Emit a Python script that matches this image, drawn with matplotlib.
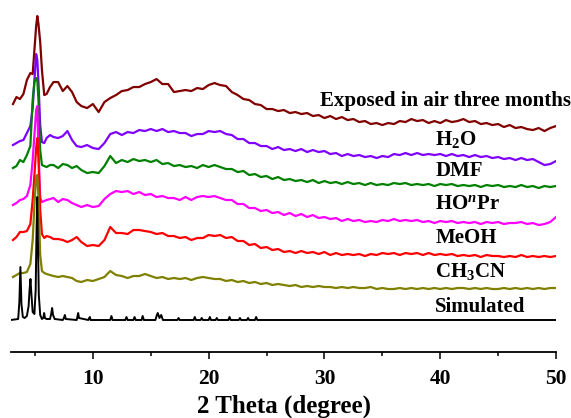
import numpy as np
import matplotlib
matplotlib.use("Agg")
import matplotlib.pyplot as plt

plt.rcParams['font.family'] = ['Liberation Serif', 'DejaVu Serif']
plt.rcParams['font.weight'] = 'bold'
plt.rcParams['mathtext.fontset'] = 'custom'
plt.rcParams['mathtext.rm'] = 'Liberation Serif:bold'
plt.rcParams['mathtext.it'] = 'Liberation Serif:italic:bold'
plt.rcParams['mathtext.bf'] = 'Liberation Serif:bold'

# 2 theta grid for the measured patterns
two_theta = np.concatenate([
    [3.1, 3.4, 3.7, 4.0, 4.3, 4.6, 4.8, 4.95, 5.1, 5.2, 5.3,
     5.45, 5.6, 5.8, 6.0, 6.3, 6.6, 7.0, 7.4, 7.8, 8.2, 8.6],
    np.arange(9.0, 50.01, 0.5)])

# intensities (a.u.)
air = [24, 31, 29, 34, 48, 55, 54, 78, 102, 112, 104,
       86, 58, 33, 34, 41, 46, 46, 37, 42, 36, 26,
       22, 20, 24, 16, 26, 30, 33, 37, 38, 41, 41, 44,
       46, 49, 44, 44, 36, 37, 38, 37, 40, 39, 43, 45,
       43, 42, 36, 33, 29, 28, 24, 23, 19, 19, 17, 18,
       15, 16, 14, 15, 12, 13, 10, 12, 9, 11, 8, 9,
       6, 7, 4, 5, 3, 5, 4, 7, 6, 9, 7, 8,
       5, 7, 5, 8, 6, 7, 9, 6, 7, 4, 5, 3,
       4, 1, 3, 0, 1, -1, -2, 0, -3, 0, 2]
h2o = [15, 17, 19, 20, 27, 34, 52, 80, 106, 100, 78,
       35, 18, 17, 22, 25, 23, 22, 24, 29, 20, 14,
       13, 15, 12, 11, 17, 26, 28, 25, 28, 27, 30, 29,
       31, 29, 31, 28, 29, 27, 27, 24, 26, 26, 29, 28,
       29, 26, 25, 21, 21, 17, 17, 14, 14, 11, 13, 10,
       11, 9, 11, 8, 10, 8, 9, 6, 7, 4, 6, 4,
       5, 3, 4, 2, 4, 3, 6, 5, 7, 5, 7, 5,
       6, 5, 6, 4, 6, 4, 5, 3, 5, 3, 4, 2,
       3, 1, 2, 0, 2, 0, 1, -2, -5, -4, -1]
dmf = [18, 20, 26, 24, 31, 40, 86, 104, 108, 106, 86,
       36, 21, 20, 19, 21, 21, 18, 22, 21, 18, 20,
       16, 13, 14, 13, 20, 30, 23, 26, 24, 27, 25, 26,
       24, 26, 22, 23, 20, 21, 19, 20, 18, 21, 19, 21,
       19, 17, 17, 14, 15, 11, 12, 9, 10, 7, 9, 6,
       7, 5, 6, 4, 6, 3, 5, 3, 4, 2, 4, 2,
       3, 1, 3, 1, 2, 1, 3, 2, 3, 1, 2, 1,
       2, 0, 2, 1, 2, 0, 1, 0, 1, -1, 1, 0,
       1, -1, 0, -1, 1, -1, 0, -2, 0, -1, 0]
hopr = [13, 15, 18, 19, 22, 33, 58, 83, 108, 112, 68,
        20, 16, 17, 18, 19, 20, 16, 19, 18, 15, 13,
        11, 13, 11, 12, 19, 24, 27, 26, 27, 24, 26, 23,
        24, 21, 22, 20, 20, 18, 21, 18, 21, 22, 21, 22,
        20, 18, 18, 14, 14, 10, 10, 7, 8, 5, 6, 3,
        5, 2, 4, 1, 3, 0, 1, -1, 0, -3, -1, -3,
        -2, -4, -3, -4, -2, -3, -1, -3, -2, -3, -2, -4,
        -3, -5, -3, -4, -3, -5, -4, -5, -4, -6, -4, -5,
        -4, -6, -5, -5, -4, -6, -5, -7, -6, -4, 1]
meoh = [16, 19, 24, 24, 25, 32, 56, 81, 108, 118, 98,
        46, 22, 18, 20, 19, 17, 17, 16, 14, 16, 19,
        14, 10, 11, 10, 16, 29, 23, 23, 22, 26, 26, 25,
        24, 22, 23, 20, 20, 18, 19, 16, 18, 18, 21, 20,
        21, 18, 19, 15, 15, 11, 12, 8, 9, 6, 7, 4,
        5, 3, 5, 3, 4, 2, 4, 1, 3, 1, 2, 1,
        2, 0, 2, 1, 3, 2, 3, 1, 3, 2, 3, 1,
        3, 1, 2, 1, 2, 0, 1, 0, 1, -1, 1, 0,
        0, -1, 0, -1, 1, -1, 0, -1, 0, -1, 0]
ch3cn = [11, 13, 15, 15, 16, 24, 48, 83, 112, 113, 90,
         33, 17, 15, 14, 13, 12, 11, 12, 11, 10, 7,
         6, 8, 7, 9, 11, 17, 13, 12, 10, 12, 12, 14,
         12, 10, 11, 9, 10, 9, 10, 8, 10, 11, 10, 9,
         9, 7, 8, 6, 7, 5, 6, 4, 5, 3, 4, 3,
         2, 3, 1, 2, 1, 2, 1, 1, 0, 1, 0, 1,
         0, 0, 1, -1, 0, -1, -1, 0, -1, 0, -1, 0,
         -1, 0, -1, 0, -1, 0, 0, -1, 0, -1, 0, -1,
         -1, 0, -1, 0, -1, 0, -1, 0, -1, 0, 0]

# simulated pattern
sim_x = [2.9, 3.55,
         3.65, 3.74, 3.83, 3.95, 4.1, 4.3,
         4.45, 4.53, 4.61, 4.69, 4.8, 4.95,
         5.06, 5.12, 5.19, 5.26, 5.33, 5.45, 5.6,
         5.72, 5.79, 5.86, 6.0, 6.3,
         6.4, 6.48, 6.56, 6.7, 7.4,
         7.5, 7.58, 7.66, 8.6,
         8.66, 8.73, 8.8, 9.6,
         9.68, 9.74, 9.8, 11.5,
         11.6, 11.7, 12.8, 12.9, 13.0, 13.5, 13.6, 13.7, 14.2, 14.3, 14.4, 15.4,
         15.5, 15.6, 15.75, 15.9, 16.05, 17.3,
         17.4, 17.5, 18.7, 18.8, 18.9, 19.3, 19.4, 19.5, 20.0, 20.1, 20.2,
         20.6, 20.7, 20.8, 21.7, 21.8, 21.9, 22.6, 22.7, 22.8, 23.3, 23.4, 23.5,
         24.0, 24.1, 24.2, 50.0]
sim_y = [0, 1,
         18, 53, 16, 3, 2, 4,
         14, 30, 41, 26, 8, 6,
         30, 80, 123, 75, 25, 5, 1,
         2, 7, 2, 1, 1,
         6, 12, 5, 1, 0,
         2, 5, 1, 0,
         3, 7, 2, 0,
         2, 3, 0, 0,
         4, 0, 0, 3, 0, 0, 3, 0, 0, 4, 0, 0,
         4, 7, 2, 5, 0, 0,
         2, 0, 0, 3, 0, 0, 2, 0, 0, 3, 0,
         0, 2, 0, 0, 3, 0, 0, 2, 0, 0, 2, 0,
         0, 3, 0, 0]

names = ['Exposed in air three months', 'H$_2$O', 'DMF', 'HO$^{\\mathit{n}}$Pr',
         'MeOH', 'CH$_3$CN', 'Simulated']
colors = ['#800000', '#8000ff', '#008000', '#ff00ff', '#ff0000', '#808000', 'black']
offsets = [224, 192, 166, 134, 96, 64, 32]
series = [air, h2o, dmf, hopr, meoh, ch3cn]

fig = plt.figure(figsize=(5.71, 4.18), dpi=100)
ax = fig.add_axes([0.0193, 0.1579, 0.9545, 0.830])

for s, c, off in zip(series, colors, offsets):
    ax.plot(two_theta, np.array(s) + off, color=c, lw=1.6)
ax.plot(sim_x, np.array(sim_y) + offsets[6], color='black', lw=1.4)

# labels
ax.text(29.62, 246, names[0], fontsize=15, fontweight='bold', va='baseline')
label_y = [207, 176, 143, 109, 75, 40]
for n, ly in zip(names[1:], label_y):
    ax.text(39.56, ly, n, fontsize=15, fontweight='bold', va='baseline')

ax.set_xlim(2.93, 50.0)
ax.set_ylim(0, 347)
ax.set_xticks([10, 20, 30, 40, 50])
ax.set_xticks([5, 15, 25, 35, 45], minor=True)
ax.set_yticks([])
for sp in ['left', 'right', 'top']:
    ax.spines[sp].set_visible(False)
ax.spines['bottom'].set_linewidth(1.3)
ax.tick_params(axis='x', which='major', direction='out', length=5, width=1.1,
               labelsize=15.5, pad=7)
ax.tick_params(axis='x', which='minor', direction='out', length=3, width=1.1)
for t in ax.get_xticklabels():
    t.set_fontweight('bold')
ax.set_xlabel('2 Theta (degree)', fontsize=18, fontweight='bold', labelpad=4)

fig.savefig('out.png', dpi=100)
